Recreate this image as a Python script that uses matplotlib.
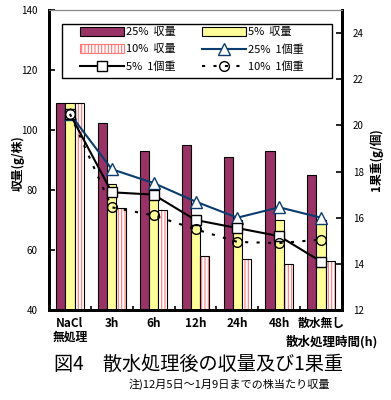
import matplotlib
matplotlib.use('Agg')
import matplotlib.pyplot as plt
import numpy as np
from matplotlib.patches import Patch, Rectangle
from matplotlib.lines import Line2D

plt.rcParams['font.family'] = ['Noto Sans CJK JP', 'DejaVu Sans']
plt.rcParams['hatch.linewidth'] = 0.8

# data
categories = ['NaCl\n無処理', '3h', '6h', '12h', '24h', '48h', '散水無し']
yield_25 = [109, 102.5, 93, 95, 91, 93, 85]
yield_5 = [109, 82, 80, 71, 70, 70, 70]
yield_10 = [109, 74, 73.5, 58, 57, 55.5, 56.5]
weight_25 = [20.5, 18.1, 17.5, 16.7, 16.0, 16.45, 16.0]
weight_5 = [20.5, 17.1, 17.0, 15.9, 15.55, 15.2, 14.1]
weight_10 = [20.5, 16.45, 16.1, 15.5, 14.95, 14.9, 15.05]

plum = '#993366'
pale_yellow = '#FFFF99'
navy = '#0B3C6E'
hatch_red = '#FF7777'

fig = plt.figure(figsize=(3.91, 4.0), dpi=100)
ax = fig.add_axes([49 / 391, 1 - 310 / 400, 293 / 391, 300 / 400])
ax2 = ax.twinx()

x = np.arange(len(categories))
w = 0.22
ax.bar(x - w, yield_25, w, color=plum, edgecolor='black', linewidth=0.8, zorder=2)
ax.bar(x, yield_5, w, color=pale_yellow, edgecolor='black', linewidth=0.8, zorder=2)
ax.bar(x + w, yield_10, w, color='white', edgecolor=hatch_red, hatch='|||||',
       linewidth=0, zorder=2)
ax.bar(x + w, yield_10, w, fill=False, edgecolor='black', linewidth=0.8, zorder=3)

ax.set_ylim(40, 140)
ax.set_yticks([40, 60, 80, 100, 120, 140])
ax.set_xlim(-0.5, len(categories) - 0.5)
ax.set_xticks(x)
ax.set_xticklabels(categories, fontsize=8.5, fontweight='bold')
for lab in ax.get_xticklabels():
    lab.set_linespacing(1.05)
ax.set_xticks(np.arange(len(categories) + 1) - 0.5, minor=True)
ax.tick_params(axis='x', which='major', length=0, pad=5)
ax.tick_params(axis='x', which='minor', direction='in', length=3, width=1.2)
ax.tick_params(axis='y', direction='in', length=4, width=1.2, labelsize=7, pad=8)

ax2.plot(x, weight_25, color=navy, lw=1.5, marker='^', ms=8,
         mfc='white', mec=navy, mew=1, zorder=4)
ax2.plot(x, weight_5, color='black', lw=1.5, marker='s', ms=7,
         mfc='white', mec='black', mew=1, zorder=4)
ax2.plot(x, weight_10, color='black', lw=1.5, ls=(0, (1.5, 4)), marker='o', ms=7,
         mfc='none', mec='black', mew=1, zorder=4)
ax2.set_ylim(12, 25)
ax2.set_yticks([12, 14, 16, 18, 20, 22, 24])
ax2.tick_params(axis='y', direction='in', length=4, width=1.2, labelsize=7, pad=8)

for a in (ax, ax2):
    a.spines['left'].set_linewidth(2)
    a.spines['right'].set_linewidth(2)
    a.spines['bottom'].set_linewidth(2)
    a.spines['top'].set_linewidth(0.8)
    a.spines['top'].set_color('#888888')

# legend frame drawn separately so the inner padding can match
ax2.add_patch(Rectangle((62 / 391, 1 - 78 / 400), 270 / 391, 54 / 400,
                        transform=fig.transFigure, facecolor='white',
                        edgecolor='black', linewidth=1, zorder=5))

handles = [
    Patch(facecolor=plum, edgecolor='black', linewidth=0.8),
    Patch(facecolor='white', edgecolor=hatch_red, hatch='|||||', linewidth=0.8),
    Line2D([], [], color='black', lw=1.5, marker='s', ms=7, mfc='white', mec='black'),
    Patch(facecolor=pale_yellow, edgecolor='black', linewidth=0.8),
    Line2D([], [], color=navy, lw=1.5, marker='^', ms=8, mfc='white', mec=navy),
    Line2D([], [], color='black', lw=1.5, ls=(0, (1.5, 4)), marker='o', ms=7,
           mfc='none', mec='black'),
]
labels = ['25%  収量', '10%  収量', '5%  1個重', '5%  収量', '25%  1個重', '10%  1個重']
leg = ax2.legend(handles, labels, ncol=2, loc='upper left',
                 bbox_to_anchor=(80 / 391, 1 - 27 / 400),
                 bbox_transform=fig.transFigure, fontsize=8,
                 frameon=False, handlelength=4, handleheight=0.8,
                 labelspacing=0.62, columnspacing=2.4, handletextpad=0.1,
                 borderpad=0, borderaxespad=0)
leg.set_zorder(6)

fig.text(18 / 391, 1 - 163 / 400, '収量(g/株)', rotation=90, ha='center', va='center',
         fontsize=8.5, fontweight='bold')
fig.text(376 / 391, 1 - 160 / 400, '1果重(g/個)', rotation=90, ha='center', va='center',
         fontsize=8.5, fontweight='bold')
fig.text(378 / 391, 1 - 342 / 400, '散水処理時間(h)', ha='right', va='center',
         fontsize=9, fontweight='bold')
fig.text(198 / 391, 1 - 364 / 400, '図4　散水処理後の収量及び1果重', ha='center', va='center',
         fontsize=13.8)
fig.text(330 / 391, 1 - 384 / 400, '注)12月5日～1月9日までの株当たり収量', ha='right',
         va='center', fontsize=8)

fig.savefig('out.png', dpi=100)
